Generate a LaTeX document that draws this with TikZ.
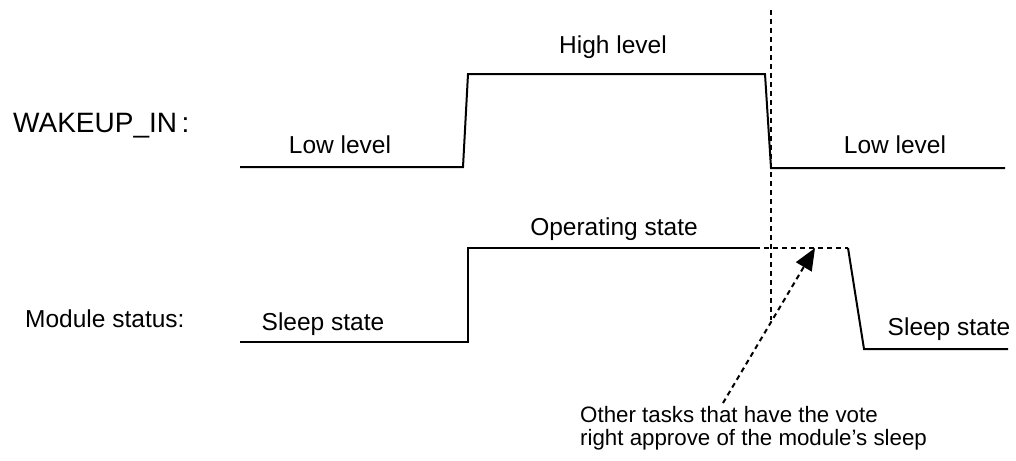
\documentclass[tikz,border=0pt]{standalone}
\usepackage{fontspec}
\setmainfont{Liberation Sans}
\usetikzlibrary{arrows.meta}
\begin{document}
\begin{tikzpicture}[x=1pt,y=-1pt,
  wave/.style={line width=2pt, line join=miter},
  dashline/.style={line width=2pt, dash pattern=on 5pt off 4pt},
  lbl/.style={inner sep=0pt, anchor=base, font=\fontsize{24.5}{28}\selectfont},
  side/.style={inner sep=0pt, anchor=base west, font=\fontsize{24.5}{28}\selectfont},
  note/.style={inner sep=0pt, anchor=base west, align=left, font=\fontsize{22.3}{23}\selectfont}]
\useasboundingbox (0,0) rectangle (1016,460);
% WAKEUP_IN waveform
\draw[wave] (240,167) -- (463,167) -- (468,74) -- (765,74) -- (771,168) -- (1005,168);
\draw[dashline] (771,10) -- (771,320);
% Module status waveform
\draw[wave] (240,342) -- (468,342) -- (468,248) -- (755,248);
\draw[dashline] (755,248) -- (848,248);
\draw[wave] (848,248) -- (864,349) -- (1008,349);
% labels
\node[side, font=\fontsize{28}{30}\selectfont] (wk) at (13,132) {WAKEUP\_IN\,:};
\node[side] (ms) at (25,327) {Module status:};
\node[lbl] (hl) at (613,54) {High level};
\node[lbl] (ll1) at (340,153) {Low level};
\node[lbl] (ll2) at (895,153) {Low level};
\node[lbl] (op) at (614,235) {Operating state};
\node[lbl] (ss1) at (323,330) {Sleep state};
\node[lbl] (ss2) at (949,335) {Sleep state};
\node[note] (nt) at (580,445) {Other tasks that have the vote\\right approve of the module’s sleep};
% arrow
\coordinate (tail) at (723,403);
\coordinate (tip) at (815,248);
\draw[dashline, -{Triangle[length=22pt,width=18pt]}] (tail) -- (tip);
\end{tikzpicture}
\end{document}
